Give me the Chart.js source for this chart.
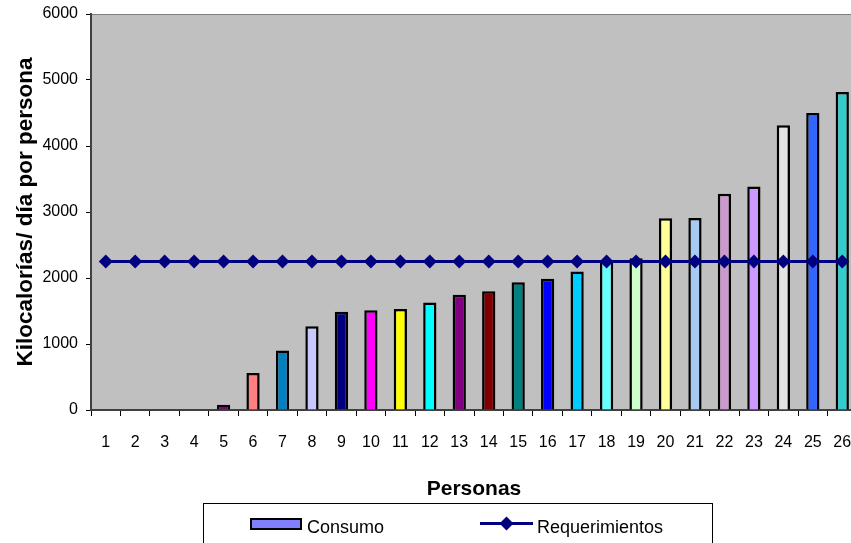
<!DOCTYPE html>
<html>
<head>
<meta charset="utf-8">
<script src="https://cdn.jsdelivr.net/npm/chart.js@4/dist/chart.umd.min.js"></script>
<style>
  html, body { margin: 0; padding: 0; background: #ffffff; overflow: hidden; }
  #wrap { width: 865px; height: 543px; }
  #c { display: block; }
</style>
</head>
<body>
<div id="wrap"><canvas id="c" width="865" height="543"></canvas></div>
<script>
// Personas 1..26
const personas = ['1','2','3','4','5','6','7','8','9','10','11','12','13','14','15','16','17','18','19','20','21','22','23','24','25','26'];

// Consumo (kcal/día por persona)
const consumo = [0, 0, 0, 0, 80, 560, 900, 1270, 1490, 1510, 1530, 1630, 1745, 1800, 1935, 1990, 2100, 2260, 2300, 2905, 2910, 3275, 3385, 4315, 4500, 4820];

// Requerimientos (kcal/día)
const requerimientos = [2250, 2250, 2250, 2250, 2250, 2250, 2250, 2250, 2250, 2250, 2250, 2250, 2250, 2250, 2250, 2250, 2250, 2250, 2250, 2250, 2250, 2250, 2250, 2250, 2250, 2250];

// Y axis ticks
const yTicks = [0, 1000, 2000, 3000, 4000, 5000, 6000];

// One fill colour per person
const barColors = ['#8080FF', '#8080FF', '#8080FF', '#8080FF', '#800080', '#FF8080', '#0080C0', '#C8C8FF',
  '#000080', '#FF00FF', '#FFFF00', '#00FFFF', '#800080', '#800000', '#008080', '#0000FF', '#00CCFF',
  '#66FFFF', '#CCFFCC', '#FFFF99', '#A6CAF0', '#CC99CC', '#CC99FF', '#E3E3E3', '#3366FF', '#33CCCC'];

const FONT = "'Liberation Sans', Arial, sans-serif";

const plotBackground = {
  id: 'plotBackground',
  beforeDraw(chart) {
    const { ctx, chartArea: a } = chart;
    ctx.save();
    ctx.fillStyle = '#C0C0C0';
    ctx.fillRect(a.left, a.top, a.right - a.left, a.bottom - a.top);
    ctx.strokeStyle = '#808080';
    ctx.lineWidth = 1;
    ctx.strokeRect(a.left + 0.5, a.top + 0.5, a.right - a.left, a.bottom - a.top);
    ctx.restore();
  }
};

const boxLegend = {
  id: 'boxLegend',
  afterDraw(chart) {
    const ctx = chart.ctx;
    ctx.save();
    // frame
    ctx.strokeStyle = '#000000';
    ctx.lineWidth = 1;
    ctx.strokeRect(203.5, 503.5, 509, 60);
    // Consumo swatch
    ctx.fillStyle = '#8080FF';
    ctx.fillRect(250, 518, 52, 12);
    ctx.strokeStyle = '#000000';
    ctx.lineWidth = 2;
    ctx.strokeRect(251, 519, 50, 10);
    ctx.fillStyle = '#000000';
    ctx.font = '18px ' + FONT;
    ctx.textBaseline = 'alphabetic';
    ctx.textAlign = 'left';
    ctx.fillText(chart.data.datasets[1].label, 307, 533);
    // Requerimientos line + diamond
    ctx.strokeStyle = '#000080';
    ctx.lineWidth = 3;
    ctx.beginPath();
    ctx.moveTo(480, 523.5);
    ctx.lineTo(533, 523.5);
    ctx.stroke();
    ctx.fillStyle = '#000080';
    ctx.beginPath();
    ctx.moveTo(506.5, 516.5);
    ctx.lineTo(513.5, 523.5);
    ctx.lineTo(506.5, 530.5);
    ctx.lineTo(499.5, 523.5);
    ctx.closePath();
    ctx.fill();
    ctx.fillStyle = '#000000';
    ctx.fillText(chart.data.datasets[0].label, 537, 533);
    ctx.restore();
  }
};

new Chart(document.getElementById('c'), {
  data: {
    labels: personas,
    datasets: [
      {
        type: 'line',
        label: 'Requerimientos',
        data: requerimientos,
        borderColor: '#000080',
        borderWidth: 3,
        backgroundColor: '#000080',
        pointStyle: 'rectRot',
        pointRadius: 7,
        pointBorderWidth: 0,
        pointBackgroundColor: '#000080',
        tension: 0,
        order: 0
      },
      {
        type: 'bar',
        label: 'Consumo',
        data: consumo,
        backgroundColor: barColors,
        borderColor: '#000000',
        borderWidth: 2.5,
        borderSkipped: 'start',
        categoryPercentage: 1,
        barPercentage: 0.45,
        order: 1
      }
    ]
  },
  options: {
    responsive: false,
    animation: false,
    devicePixelRatio: 1,
    layout: { padding: { top: 14, right: 8, bottom: 41, left: 0 } },
    plugins: {
      legend: { display: false },
      tooltip: { enabled: false }
    },
    scales: {
      x: {
        type: 'category',
        offset: true,
        grid: {
          offset: true,
          drawOnChartArea: false,
          drawTicks: true,
          tickLength: 6,
          tickColor: '#000000',
          tickWidth: 1
        },
        border: { color: '#404040', width: 2 },
        ticks: {
          color: '#000000',
          font: { family: FONT, size: 16 },
          padding: 17,
          maxRotation: 0,
          autoSkip: false
        },
        title: {
          display: true,
          text: 'Personas',
          color: '#000000',
          font: { family: FONT, size: 21, weight: 'bold' },
          padding: { top: 0, bottom: 0 }
        },
        afterFit(axis) {
          axis.height = 92;
          axis.paddingLeft = 0;
          axis.paddingRight = 0;
        }
      },
      y: {
        min: 0,
        max: 6000,
        afterBuildTicks(axis) { axis.ticks = yTicks.map(v => ({ value: v })); },
        grid: {
          drawOnChartArea: false,
          drawTicks: true,
          tickLength: 5,
          tickColor: '#000000',
          tickWidth: 1
        },
        border: { color: '#404040', width: 2 },
        ticks: {
          color: '#000000',
          font: { family: FONT, size: 16 },
          padding: 8,
          callback: (v) => String(v)
        },
        title: {
          display: true,
          text: 'Kilocalorías/ día por persona',
          color: '#000000',
          font: { family: FONT, size: 22.5, weight: 'bold' },
          padding: { top: 12, bottom: 0 }
        },
        afterFit(axis) {
          axis.width = 91;
          axis.paddingTop = 0;
          axis.paddingBottom = 0;
        }
      }
    }
  },
  plugins: [plotBackground, boxLegend]
});
</script>
</body>
</html>
